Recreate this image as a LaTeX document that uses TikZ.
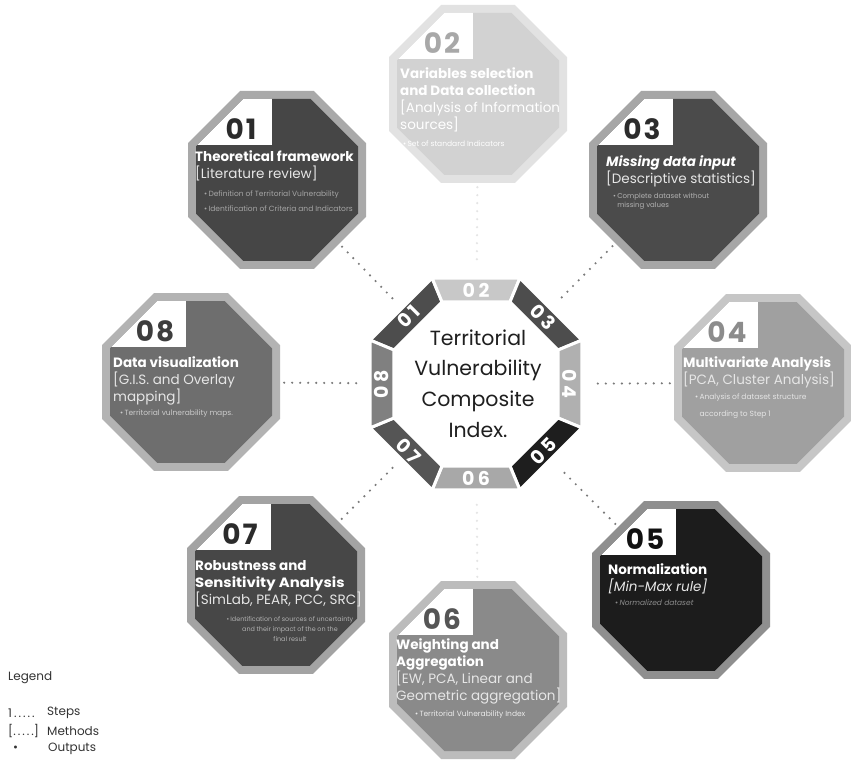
\documentclass[tikz,border=0pt]{standalone}
\usepackage{fontspec}
\usepackage{graphicx}
\setmainfont{Poppins}
\usetikzlibrary{calc}
\definecolor{bd1}{HTML}{A9A9A9}\definecolor{fi1}{HTML}{464646}\definecolor{nu1}{HTML}{2B2B2B}
\definecolor{bd2}{HTML}{E2E2E2}\definecolor{fi2}{HTML}{D2D2D2}\definecolor{nu2}{HTML}{A8A8A8}
\definecolor{bd3}{HTML}{A6A6A6}\definecolor{fi3}{HTML}{4B4B4B}\definecolor{nu3}{HTML}{2B2B2B}
\definecolor{bd4}{HTML}{C6C6C6}\definecolor{fi4}{HTML}{A0A0A0}\definecolor{nu4}{HTML}{8C8C8C}
\definecolor{bd5}{HTML}{8F8F8F}\definecolor{fi5}{HTML}{1C1C1C}\definecolor{nu5}{HTML}{111111}
\definecolor{bd6}{HTML}{BCBCBC}\definecolor{fi6}{HTML}{8A8A8A}\definecolor{nu6}{HTML}{555555}
\definecolor{bd7}{HTML}{A3A3A3}\definecolor{fi7}{HTML}{474747}\definecolor{nu7}{HTML}{2B2B2B}
\definecolor{bd8}{HTML}{B3B3B3}\definecolor{fi8}{HTML}{6E6E6E}\definecolor{nu8}{HTML}{3D3D3D}
\definecolor{rg1}{HTML}{4D4D4D}\definecolor{rg2}{HTML}{C8C8C8}\definecolor{rg3}{HTML}{4D4D4D}
\definecolor{rg4}{HTML}{B0B0B0}\definecolor{rg5}{HTML}{1E1E1E}\definecolor{rg6}{HTML}{A8A8A8}
\definecolor{rg7}{HTML}{555555}\definecolor{rg8}{HTML}{808080}
\definecolor{brk}{HTML}{E6E6E6}
\definecolor{dotc}{HTML}{7A7A7A}
\definecolor{dotl}{HTML}{E4E4E4}
\definecolor{legc}{HTML}{333333}
\newcommand{\octpath}[3]{($(#1,#2)+(22.5:{#3*1.08239})$) -- ($(#1,#2)+(67.5:{#3*1.08239})$) -- ($(#1,#2)+(112.5:{#3*1.08239})$) -- ($(#1,#2)+(157.5:{#3*1.08239})$) -- ($(#1,#2)+(202.5:{#3*1.08239})$) -- ($(#1,#2)+(247.5:{#3*1.08239})$) -- ($(#1,#2)+(292.5:{#3*1.08239})$) -- ($(#1,#2)+(337.5:{#3*1.08239})$) -- cycle}
\newcommand{\stepgon}[5]{%
  \fill[#4] \octpath{#2}{#3}{89};
  \fill[#5] \octpath{#2}{#3}{81};
  \begin{scope}
    \clip \octpath{#2}{#3}{81};
    \fill[white] ($(#2,#3)+(-95,35)$) rectangle ($(#2,#3)+(-5,95)$);
  \end{scope}
  \node[hub] (#1) at (#2,#3) {};
}
\newcommand{\ringseg}[2]{%
  \filldraw[fill=#2,draw=white,line width=3pt,line join=miter]
    ($(C)+({#1-22.5}:114.7)$) -- ($(C)+({#1+22.5}:114.7)$) -- ($(C)+({#1+22.5}:88.8)$) -- ($(C)+({#1-22.5}:88.8)$) -- cycle;
}
\newcommand{\dg}[2]{#1\kern2pt#2}
\newcommand{\rdg}[2]{#1\kern3.5pt#2}
\begin{document}
\begin{tikzpicture}[x=1pt,y=1pt,
  hub/.style={circle,inner sep=0pt,minimum size=186pt,draw=none},
  dotline/.style={draw=#1,line width=2.4pt,line cap=round,dash pattern=on 0pt off 8pt},
  stepnum/.style={inner sep=0pt,font=\bfseries\fontsize{28}{28}\selectfont},
  ringnum/.style={inner sep=0pt,text=white,font=\bfseries\fontsize{19}{19}\selectfont},
  ctline/.style={anchor=base,inner sep=0pt,text=black!88,font=\fontsize{20.5}{31}\selectfont},
  ttl/.style={anchor=north west,inner sep=0pt,align=left,text=white,font=\fontsize{13.5}{17}\selectfont},
  bul/.style={anchor=west,inner sep=0pt,align=left,font=\fontsize{7.5}{9}\selectfont},
  legtext/.style={anchor=west,inner sep=0pt,text=legc,font=\fontsize{12}{14}\selectfont}]
\useasboundingbox (0,0) rectangle (851,761);
\fill[white] (0,0) rectangle (851,761);

% centre hub
\node[circle,inner sep=0pt,minimum size=236pt,draw=none] (C) at (476,377) {};

% steps
\stepgon{s1}{277}{581}{bd1}{fi1}
\stepgon{s2}{478}{667}{bd2}{fi2}
\stepgon{s3}{678}{581}{bd3}{fi3}
\stepgon{s4}{763}{378}{bd4}{fi4}
\stepgon{s5}{681}{171}{bd5}{fi5}
\stepgon{s6}{478}{91}{bd6}{fi6}
\stepgon{s7}{276}{176}{bd7}{fi7}
\stepgon{s8}{191}{379}{bd8}{fi8}

% connectors
\draw[dotline=dotc] (s1) -- (C);
\draw[dotline=dotl] (s2) -- (C);
\draw[dotline=dotc] (s3) -- (C);
\draw[dotline=dotc] (s4) -- (C);
\draw[dotline=dotc] (s5) -- (C);
\draw[dotline=dotl] (s6) -- (C);
\draw[dotline=dotc] (s7) -- (C);
\draw[dotline=dotc] (s8) -- (C);

% ring
\ringseg{135}{rg1}
\ringseg{90}{rg2}
\ringseg{45}{rg3}
\ringseg{0}{rg4}
\ringseg{-45}{rg5}
\ringseg{-90}{rg6}
\ringseg{-135}{rg7}
\ringseg{180}{rg8}
\node[ringnum,rotate=45] (r1) at ($(C)+(135:95)$) {\rdg{0}{1}};
\node[ringnum] (r2) at ($(C)+(90:94)$) {\rdg{0}{2}};
\node[ringnum,rotate=-45] (r3) at ($(C)+(45:95)$) {\rdg{0}{3}};
\node[ringnum,rotate=-90] (r4) at ($(C)+(0:94)$) {\rdg{0}{4}};
\node[ringnum,rotate=45] (r5) at ($(C)+(-45:95)$) {\rdg{0}{5}};
\node[ringnum] (r6) at ($(C)+(-90:94)$) {\rdg{0}{6}};
\node[ringnum,rotate=-45] (r7) at ($(C)+(-135:95)$) {\rdg{0}{7}};
\node[ringnum,rotate=90] (r8) at ($(C)+(180:94)$) {\rdg{0}{8}};
\node[ctline] (ct1) at ($(C)+(2,38)$) {Territorial};
\node[ctline] (ct2) at ($(C)+(2,8)$) {Vulnerability};
\node[ctline] (ct3) at ($(C)+(2,-23)$) {Composite};
\node[ctline] (ct4) at ($(C)+(2,-54)$) {Index.};

% numbers
\node[stepnum,text=nu1] (n1) at ($(s1)+(-36,51)$) {\dg{0}{1}};
\node[stepnum,text=nu2] (n2) at ($(s2)+(-36,51)$) {\dg{0}{2}};
\node[stepnum,text=nu3] (n3) at ($(s3)+(-36,51)$) {\dg{0}{3}};
\node[stepnum,text=nu4] (n4) at ($(s4)+(-36,51)$) {\dg{0}{4}};
\node[stepnum,text=nu5] (n5) at ($(s5)+(-36,51)$) {\dg{0}{5}};
\node[stepnum,text=nu6] (n6) at ($(s6)+(-36,51)$) {\dg{0}{6}};
\node[stepnum,text=nu7] (n7) at ($(s7)+(-36,51)$) {\dg{0}{7}};
\node[stepnum,text=nu8] (n8) at ($(s8)+(-36,51)$) {\dg{0}{8}};

% texts
\node[ttl] (t1) at ($(s1)+(-82,30)$) {{\bfseries Theoretical framework}\\{\color{brk}[Literature review]}};
\node[bul,text=black!35,font=\fontsize{7.5}{15}\selectfont] (b1) at ($(s1)+(-73,-21.5)$) {•\,Definition of Territorial Vulnerability\\•\,Identification of Criteria and Indicators};

\node[ttl] (t2) at ($(s2)+(-78,27)$) {{\bfseries Variables selection}\\{\bfseries and Data collection}\\{[Analysis of Information}\\{sources]}};
\node[bul,text=white] (b2) at ($(s2)+(-75,-50)$) {•\,Set of standard Indicators};

\node[ttl] (t3) at ($(s3)+(-72,25)$) {{\bfseries\itshape Missing data input}\\{\color{brk}[Descriptive statistics]}};
\node[bul,text=black!30,font=\fontsize{7}{9}\selectfont] (b3) at ($(s3)+(-65,-21.5)$) {•\,Complete dataset without\\\phantom{•\,}missing values};

\node[ttl] (t4) at ($(s4)+(-80,27)$) {{\bfseries Multivariate Analysis}\\{\color{brk}[PCA, Cluster Analysis]}};
\node[bul,text=black!10,font=\fontsize{7.5}{17}\selectfont] (b4) at ($(s4)+(-68,-23.5)$) {•\,Analysis of dataset structure\\\phantom{•\,}according to Step 1};

\node[ttl] (t5) at ($(s5)+(-73,27)$) {{\bfseries Normalization}\\{\color{brk}\itshape [Min-Max rule]}};
\node[bul,text=black!45] (b5) at ($(s5)+(-66,-13)$) {•\,\textit{Normalized dataset}};

\node[ttl] (t6) at ($(s6)+(-82,32)$) {{\bfseries Weighting and}\\{\bfseries Aggregation}\\{\color{brk}[EW, PCA, Linear and}\\{\color{brk}Geometric aggregation]}};
\node[bul,text=black!8] (b6) at ($(s6)+(-63,-45)$) {•\,Territorial Vulnerability Index};

\node[ttl] (t7) at ($(s7)+(-81,25)$) {{\bfseries Robustness and}\\{\bfseries\scalebox{1.1}[1]{Sensitivity Analysis}}\\{\color{brk}[SimLab, PEAR, PCC, SRC]}};
\node[inner sep=0pt,align=center,text=black!30,font=\fontsize{6.4}{10}\selectfont] (b7) at ($(s7)+(14,-44)$) {•\,Identification of sources of uncertainty\\and their impact of the on the\\final result};

\node[ttl] (t8) at ($(s8)+(-78,26)$) {{\bfseries Data visualization}\\{\color{brk}[G.I.S. and Overlay}\\{\color{brk}mapping]}};
\node[bul,text=black!20] (b8) at ($(s8)+(-71,-32)$) {•\,Territorial vulnerability maps.};

% legend
\node[legtext] (lg0) at (8,83) {Legend};
\node[legtext] (lg1) at (8,48) {1\,.\,.\,.\,.\,.};
\node[legtext] (lg1b) at (47,48) {Steps};
\node[legtext] (lg2) at (8,30) {[.\,.\,.\,.\,.]};
\node[legtext] (lg2b) at (47,30) {Methods};
\node[legtext] (lg3) at (13,12) {•};
\node[legtext] (lg3b) at (48,12) {Outputs};
\end{tikzpicture}
\end{document}
